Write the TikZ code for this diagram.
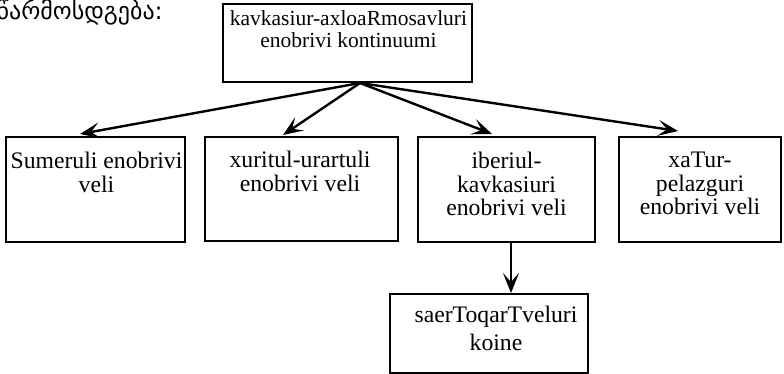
\documentclass[tikz,border=0pt]{standalone}
\usepackage{fontspec}
\setmainfont{Liberation Serif}
\newfontfamily\geofont[Script=Georgian]{DejaVu Sans}
\usetikzlibrary{arrows.meta}
\tikzset{
  boxframe/.style={draw=black, line width=2pt, inner sep=0pt},
  boxtext/.style={inner sep=0pt, align=center, anchor=north, font=\fontsize{23.7}{23.5}\selectfont},
  toptext/.style={inner sep=0pt, align=center, anchor=north, font=\fontsize{21.5}{22}\selectfont},
  arr/.style={line width=2.4pt, -{Stealth[length=20pt,width=16pt,inset=9pt]}}
}
\begin{document}
\begin{tikzpicture}[x=1pt,y=-1pt]
\useasboundingbox (0,0) rectangle (784,374);
% georgian caption (cut at the left edge)
\node[inner sep=0pt, anchor=base east, font=\geofont\fontsize{24}{24}\selectfont] (cap) at (163,20) {წარმოსდგება:};
% boxes
\node[boxframe, minimum width=249pt, minimum height=78pt] (top) at (347.5,43) {};
\node[boxframe, minimum width=179pt, minimum height=105pt] (b1) at (95.5,189.5) {};
\node[boxframe, minimum width=193pt, minimum height=104pt] (b2) at (301.5,189) {};
\node[boxframe, minimum width=177pt, minimum height=105pt] (b3) at (506.5,189.5) {};
\node[boxframe, minimum width=162pt, minimum height=105pt] (b4) at (700,189.5) {};
\node[boxframe, minimum width=198pt, minimum height=79pt] (b5) at (489,333.5) {};
% texts
\node[toptext] (ttop) at (348.5,10.5) {kavkasiur-axloaRmosavluri\\enobrivi kontinuumi};
\node[boxtext] (t1) at (96.5,152) {Sumeruli enobrivi\\veli};
\node[boxtext] (t2) at (300,151) {xuritul-urartuli\\enobrivi veli};
\node[boxtext] (t3) at (506.5,152) {iberiul-\\kavkasiuri\\enobrivi veli};
\node[boxtext] (t4) at (700,152) {xaTur-\\pelazguri\\enobrivi veli};
\node[boxtext, font=\fontsize{23.7}{28}\selectfont] (t5) at (496,306) {saerToqarTveluri\\koine};
% connectors
\coordinate (src) at (360,83);
\coordinate (e1) at (80,134);
\coordinate (e2) at (283,135);
\coordinate (e3) at (492,134);
\coordinate (e4) at (678,131);
\coordinate (s5) at (511,242);
\coordinate (e5) at (511,293);
\draw[arr] (src) -- (e1);
\draw[arr] (src) -- (e2);
\draw[arr] (src) -- (e3);
\draw[arr] (src) -- (e4);
\draw[arr] (s5) -- (e5);
\end{tikzpicture}
\end{document}
